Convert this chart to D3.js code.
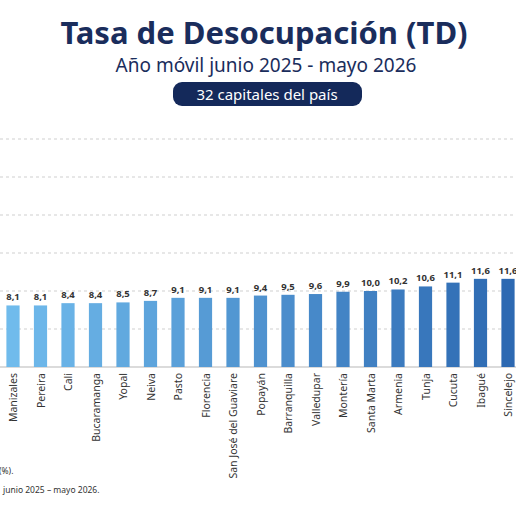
<!DOCTYPE html>
<html><head><meta charset="utf-8">
<script src="https://cdn.jsdelivr.net/npm/d3@7"></script>
<style>body{margin:0;background:#fff}svg{display:block;font-family:"Noto Sans",sans-serif}</style>
</head><body><svg id="c" width="516" height="516"></svg>
<script>
const cities = ["Manizales","Pereira","Cali","Bucaramanga","Yopal","Neiva","Pasto","Florencia","San José del Guaviare","Popayán","Barranquilla","Valledupar","Montería","Santa Marta","Armenia","Tunja","Cucuta","Ibagué","Sincelejo"];
const rates = [8.1,8.1,8.4,8.4,8.5,8.7,9.1,9.1,9.1,9.4,9.5,9.6,9.9,10.0,10.2,10.6,11.1,11.6,11.6];
const gridVals = [5,10,15,20,25,30];

const svg = d3.select("#c");
const x = d3.scaleBand().domain(cities).range([-0.75, 521.75]).paddingInner(0.52).paddingOuter(0.26);
const y = d3.scaleLinear().domain([0, 30]).range([367, 139]);
const col = d3.scaleLinear().domain([0, cities.length - 1]).range(["#70bbec", "#2d69b2"]);

// title block
svg.append("text").attr("x", 264).attr("y", 44).attr("text-anchor", "middle")
   .attr("fill", "#1a2d5c").attr("font-size", 31).attr("font-weight", 700).text("Tasa de Desocupación (TD)");
svg.append("text").attr("x", 266).attr("y", 72).attr("text-anchor", "middle")
   .attr("fill", "#1a2d5c").attr("font-size", 19).text("Año móvil junio 2025 - mayo 2026");
svg.append("rect").attr("x", 173).attr("y", 82).attr("width", 189).attr("height", 24).attr("rx", 9).attr("fill", "#14295a");
svg.append("text").attr("x", 267).attr("y", 100).attr("text-anchor", "middle")
   .attr("fill", "#fff").attr("font-size", 15).text("32 capitales del país");

// grid
svg.selectAll("line.g").data(gridVals).join("line")
   .attr("x1", 0).attr("x2", 516).attr("y1", d => y(d)).attr("y2", d => y(d))
   .attr("stroke", "#cfcfcf").attr("stroke-dasharray", "3,3");
svg.append("line").attr("x1", 0).attr("x2", 516).attr("y1", y(0)).attr("y2", y(0)).attr("stroke", "#b8b8b8").attr("stroke-width", 1.2);

// bars
svg.selectAll("rect.b").data(cities).join("rect")
   .attr("x", d => x(d)).attr("width", x.bandwidth())
   .attr("y", (d, i) => y(rates[i])).attr("height", (d, i) => y(0) - y(rates[i]))
   .attr("fill", (d, i) => col(i));

svg.selectAll("text.v").data(cities).join("text")
   .attr("x", d => x(d) + x.bandwidth() / 2).attr("y", (d, i) => y(rates[i]) - 5)
   .attr("text-anchor", "middle").attr("font-size", 9.5).attr("font-weight", 700).attr("fill", "#333")
   .text((d, i) => rates[i].toFixed(1).replace(".", ","));

svg.selectAll("text.c").data(cities).join("text")
   .attr("transform", d => `translate(${x(d) + x.bandwidth() / 2 + 4},373) rotate(-90)`)
   .attr("text-anchor", "end").attr("font-size", 10.5).attr("fill", "#333").text(d => d);

// footnotes (cut at the left edge)
svg.append("text").attr("x", -1).attr("y", 474).attr("font-size", 8.5).attr("fill", "#333").text("(%).");
svg.append("text").attr("x", 3).attr("y", 493).attr("font-size", 8.5).attr("fill", "#333").text("junio 2025 – mayo 2026.");
</script></body></html>
